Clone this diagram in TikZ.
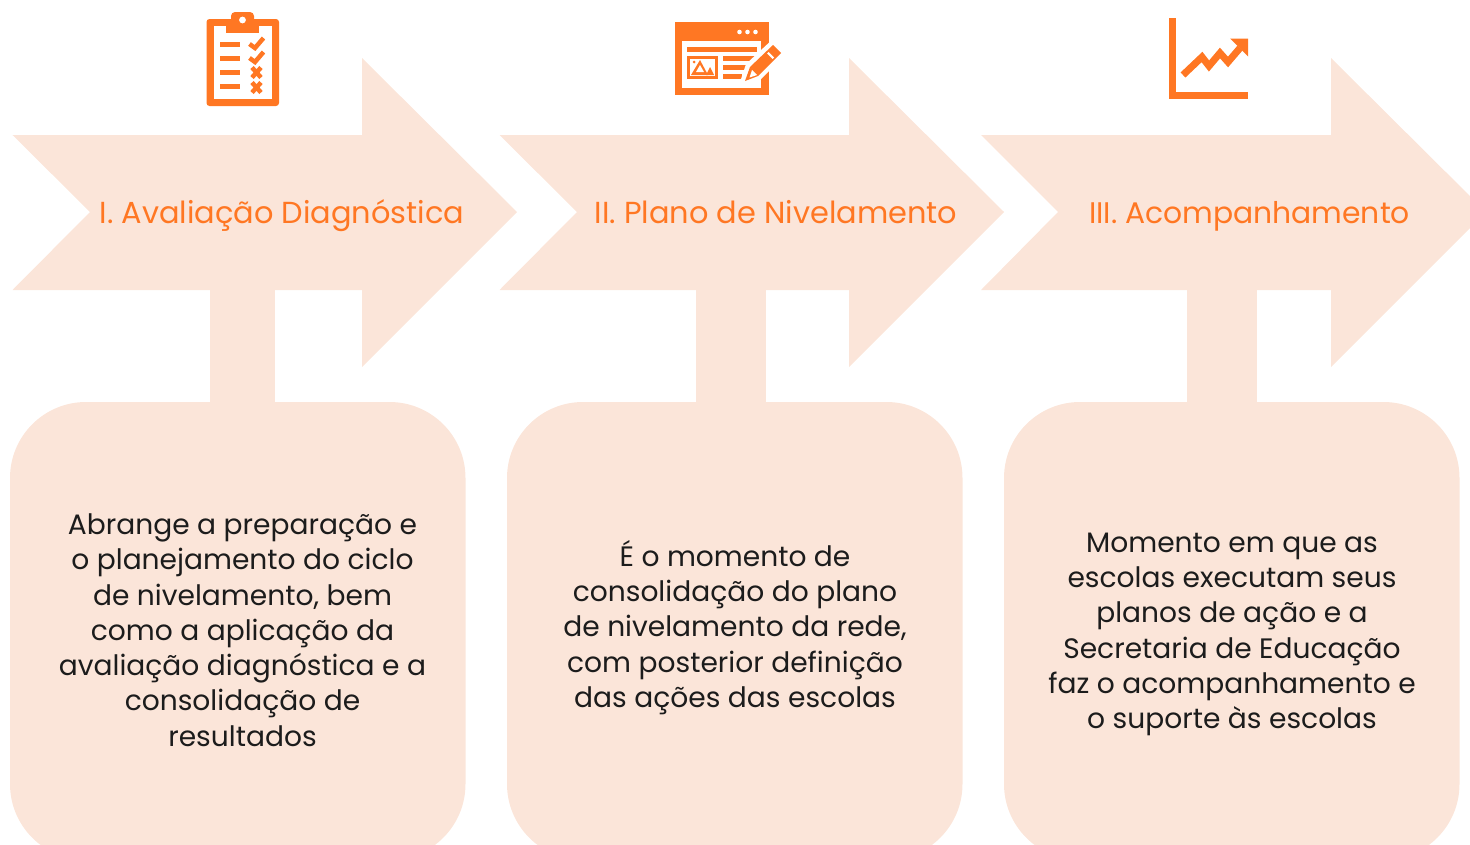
\documentclass[tikz,border=0pt]{standalone}
\usepackage{fontspec}
\setmainfont{Poppins}
\definecolor{peach}{HTML}{FBE5D9}
\definecolor{orng}{HTML}{FF7723}
\definecolor{ink}{HTML}{1C1C1C}
\tikzset{
  shapefill/.style={fill=peach,draw=none},
  icon/.style={fill=orng,draw=none},
  iconw/.style={fill=white,draw=none},
  iconl/.style={draw=orng,line width=#1,line cap=butt,line join=miter},
  title/.style={text=orng,font=\fontsize{30.4}{36}\selectfont,inner sep=0pt,anchor=base},
  body/.style={text=ink,font=\fontsize{28.1}{35.25}\selectfont,align=center,inner sep=0pt,anchor=center},
}
\begin{document}
\begin{tikzpicture}[x=1pt,y=-1pt]
\useasboundingbox (0,0) rectangle (1470,844);
\clip (0,0) rectangle (1470,844);
% arrows
\fill[shapefill] (12.5,135)--(362,135)--(362,58)--(517,212)--(362,367)--(362,290)--(12.5,290)--(90,212)--cycle;
\fill[shapefill] (499.5,135)--(849,135)--(849,58)--(1004,212)--(849,367)--(849,290)--(499.5,290)--(577,212)--cycle;
\fill[shapefill] (981,135)--(1331,135)--(1331,58)--(1486,212)--(1331,367)--(1331,290)--(981,290)--(1058,212)--cycle;
% stems
\fill[shapefill] (210,285) rectangle (275,410);
\fill[shapefill] (696,285) rectangle (766,410);
\fill[shapefill] (1187,285) rectangle (1257,410);
% boxes
\fill[shapefill,rounded corners=76pt] (10,402) rectangle (465.5,860);
\fill[shapefill,rounded corners=76pt] (507,402) rectangle (962.5,860);
\fill[shapefill,rounded corners=76pt] (1004,402) rectangle (1459.5,860);
% titles
\node[title] (t1) at (282,223.5) {I. Avaliação Diagnóstica};
\node[title] (t2) at (776,223.5) {II. Plano de Nivelamento};
\node[title,font=\fontsize{29.8}{36}\selectfont] (t3) at (1249.5,223.5) {III. Acompanhamento};
% bodies
\node[body] (b1) at (242.5,630) {Abrange a preparação e\\o planejamento do ciclo\\de nivelamento, bem\\como a aplicação da\\avaliação diagnóstica e a\\consolidação de\\resultados};
\node[body] (b2) at (735,627.5) {É o momento de\\consolidação do plano\\de nivelamento da rede,\\com posterior definição\\das ações das escolas};
\node[body] (b3) at (1232,634.5) {Momento em que as\\escolas executam seus\\planos de ação e a\\Secretaria de Educação\\faz o acompanhamento e\\o suporte às escolas};
% icon 1: clipboard
\fill[icon,rounded corners=3pt] (206.5,19) rectangle (279,106);
\fill[iconw] (213.5,26) rectangle (272,99);
\fill[icon,rounded corners=4pt] (231,12) rectangle (254,30);
\fill[icon] (226,22) rectangle (259,33);
\fill[iconw] (242.5,20) circle (3.4);
\foreach \yy in {44.5,58.5,72.5,86.5}{\fill[icon] (220,\yy-2.5) rectangle (240,\yy+2.5);}
\foreach \yy in {44,58}{\draw[iconl=4.5pt] (249.5,\yy)--(255,\yy+4)--(263.5,\yy-6);}
\foreach \yy in {72.5,87.5}{\draw[iconl=4.5pt] (252,\yy-5)--(261,\yy+5) (261,\yy-5)--(252,\yy+5);}
% icon 2: browser
\fill[icon] (675,22) rectangle (769,95);
\foreach \xx in {739,747,755}{\fill[white] (\xx.5,32) circle (2.3);}
\fill[iconw] (682,41) rectangle (761,88);
\fill[icon] (687,47) rectangle (757,52);
\fill[icon] (687,56) rectangle (718,79);
\fill[iconw] (690,59) rectangle (715,76);
\fill[icon] (691,75)--(700,60)--(708,75)--cycle;
\fill[icon] (706,75)--(710,67)--(714,75)--cycle;
\fill[iconw] (696,72)--(700,65)--(704,72)--cycle;
\fill[icon] (694,62) circle (1.5);
\fill[icon] (723,56) rectangle (757,60.5);
\fill[icon] (723,65) rectangle (750,69.5);
\fill[icon] (723,74) rectangle (742,78.5);
\fill[iconw] (740,82)--(746,64)--(774,38)--(790,50)--(760,80)--cycle;
\fill[icon] (745,81)--(750,67)--(773,45)--(781,53)--(758,76)--cycle;
\fill[iconw] (749.5,77.5)--(752,70)--(757,75)--cycle;
\fill[iconw] (767,53.5)--(768.5,52)--(774,57.5)--(772.5,59)--cycle;
% icon 3: chart
\fill[icon] (1169,18) rectangle (1176,99);
\fill[icon] (1169,92) rectangle (1248,99);
\draw[iconl=7pt] (1183,75)--(1202,57)--(1209,66)--(1220,53)--(1228,62)--(1240,48);
\fill[icon] (1230,38.5)--(1248,38.5)--(1248,56.5)--cycle;
\end{tikzpicture}
\end{document}
